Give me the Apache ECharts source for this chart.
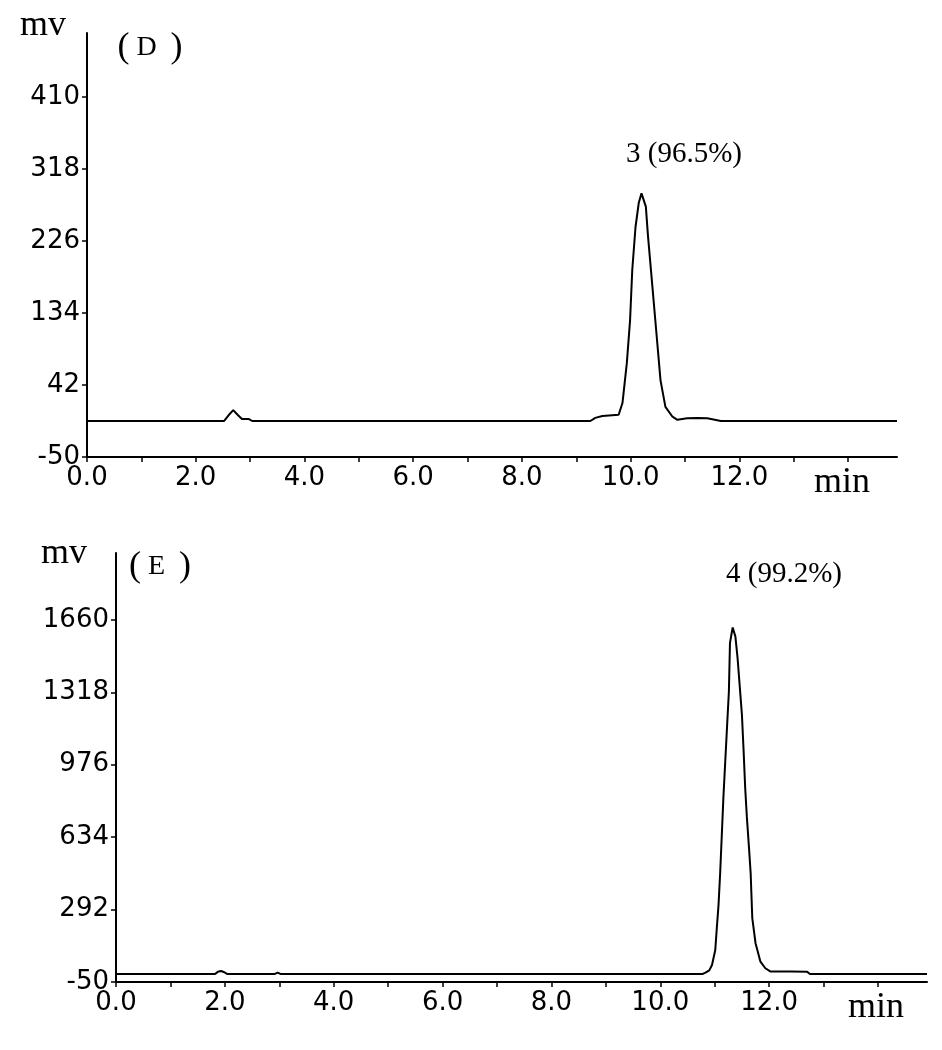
<!DOCTYPE html>
<html>
<head>
<meta charset="utf-8">
<script src="https://cdn.jsdelivr.net/npm/echarts@6/dist/echarts.min.js"></script>
<style>html,body{margin:0;padding:0;background:#fff;}#c{width:942px;height:1050px;}</style>
</head>
<body>
<div id="c"></div>
<script>
// ---- Data (retention time in min, signal in mV) ----
const timeD = [0, 2.52, 2.60, 2.69, 2.77, 2.85, 2.98, 3.04, 9.26, 9.35, 9.48, 9.78, 9.85, 9.93, 9.99, 10.03, 10.09, 10.15, 10.20, 10.23, 10.28, 10.32, 10.40, 10.48, 10.55, 10.64, 10.77, 10.86, 11.04, 11.23, 11.41, 11.66, 14.9];
const valueD = [-4, -4, 3, 10, 4, -1.5, -1.5, -4, -4, 0, 2.5, 4, 19, 70, 125, 189, 244, 275, 287, 287, 270, 232, 168, 104, 48, 14, 1.5, -2.5, -0.5, 0, -0.5, -4, -4];

const timeE = [0, 1.82, 1.87, 1.93, 1.99, 2.04, 2.92, 2.97, 3.02, 10.78, 10.83, 10.90, 10.95, 11.01, 11.04, 11.07, 11.10, 11.13, 11.16, 11.19, 11.23, 11.26, 11.28, 11.30, 11.33, 11.35, 11.38, 11.42, 11.46, 11.50, 11.53, 11.56, 11.59, 11.63, 11.66, 11.69, 11.75, 11.84, 11.93, 12.02, 12.40, 12.70, 12.75, 14.9];
const valueE = [-12, -12, -2, 2, -4, -12, -12, -6, -12, -12, -6, 5, 30, 101, 211, 314, 465, 644, 825, 975, 1173, 1321, 1550, 1581, 1624, 1624, 1581, 1479, 1345, 1211, 1046, 865, 731, 582, 465, 252, 133, 46, 15, 0, -1, -2, -12, -12];

const xTicks = [0, 1, 2, 3, 4, 5, 6, 7, 8, 9, 10, 11, 12, 13, 14];
const xLabels = [0, 2, 4, 6, 8, 10, 12];
const yTicksD = [-50, 42, 134, 226, 318, 410];
const yTicksE = [-50, 292, 634, 976, 1318, 1660];

const labelD = '3 (96.5%)';
const labelE = '4 (99.2%)';
const panelD = 'D';
const panelE = 'E';
const yUnit = 'mv';
const xUnit = 'min';

// ---- Chart ----
const chart = echarts.init(document.getElementById('c'), null, {renderer: 'canvas'});
const black = '#000';
const sans = 'DejaVu Sans';

function xAxisCfg(gi) {
  return {
    type: 'value', gridIndex: gi, min: 0, max: 14.9,
    axisLine: {show: true, onZero: false, lineStyle: {color: black, width: 2}},
    axisTick: {show: true, inside: false, length: 5, customValues: xTicks, lineStyle: {color: black, width: 1.5}},
    axisLabel: {show: true, customValues: xLabels, margin: 8, color: black, fontFamily: sans, fontSize: 26,
      formatter: v => v.toFixed(1)},
    splitLine: {show: false}
  };
}
function yAxisCfg(gi, ticks, max) {
  return {
    type: 'value', gridIndex: gi, min: -50, max: max,
    axisLine: {show: true, onZero: false, lineStyle: {color: black, width: 2}},
    axisTick: {show: true, inside: false, length: 5, customValues: ticks, lineStyle: {color: black, width: 1.5}},
    axisLabel: {show: true, customValues: ticks, margin: 7, color: black, fontFamily: sans, fontSize: 26,
      formatter: v => String(v)},
    splitLine: {show: false}
  };
}
function panelText(x, y, letter) {
  return {type: 'text', x: x, y: y, style: {
    text: '{p|(}{d| ' + letter + '  }{p|)}', align: 'center', verticalAlign: 'middle', fill: black,
    rich: {
      p: {fontFamily: 'Liberation Serif', fontSize: 36, fill: black},
      d: {fontFamily: 'Liberation Serif', fontSize: 28, fill: black}
    }
  }};
}

const option = {
  backgroundColor: '#fff',
  animation: false,
  grid: [
    {left: 87, top: 33, width: 810, height: 424},
    {left: 116, top: 553, width: 811, height: 429}
  ],
  xAxis: [xAxisCfg(0), xAxisCfg(1)],
  yAxis: [yAxisCfg(0, yTicksD, 492), yAxisCfg(1, yTicksE, 1976)],
  series: [
    {type: 'line', xAxisIndex: 0, yAxisIndex: 0, showSymbol: false, symbol: 'none',
      lineStyle: {color: black, width: 2}, data: timeD.map((t, i) => [t, valueD[i]])},
    {type: 'line', xAxisIndex: 1, yAxisIndex: 1, showSymbol: false, symbol: 'none',
      lineStyle: {color: black, width: 2}, data: timeE.map((t, i) => [t, valueE[i]])}
  ],
  graphic: [
    {type: 'text', left: 20, top: 8, style: {text: yUnit, font: '36px "Liberation Serif"', fill: black}},
    panelText(150, 48, panelD),
    {type: 'text', x: 684, y: 154, style: {text: labelD, font: '29px "Liberation Serif"', fill: black, align: 'center', verticalAlign: 'middle'}},
    {type: 'text', x: 814, y: 483, style: {text: xUnit, font: '36px "Liberation Serif"', fill: black, align: 'left', verticalAlign: 'middle'}},
    {type: 'text', left: 41, top: 536, style: {text: yUnit, font: '36px "Liberation Serif"', fill: black}},
    panelText(160, 567, panelE),
    {type: 'text', x: 784, y: 574, style: {text: labelE, font: '29px "Liberation Serif"', fill: black, align: 'center', verticalAlign: 'middle'}},
    {type: 'text', x: 848, y: 1008, style: {text: xUnit, font: '36px "Liberation Serif"', fill: black, align: 'left', verticalAlign: 'middle'}}
  ]
};
chart.setOption(option);
</script>
</body>
</html>
